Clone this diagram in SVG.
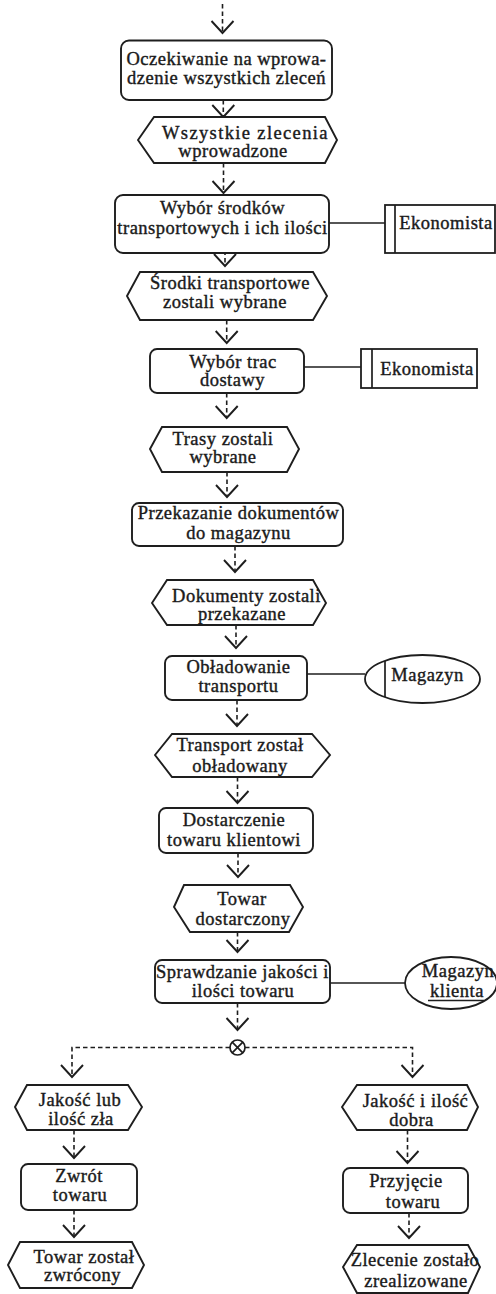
<svg xmlns="http://www.w3.org/2000/svg" width="496" height="1294" viewBox="0 0 496 1294">
  <style>
    .box { fill: #fff; stroke: #1e1e1e; stroke-width: 1.9; }
    .ev { fill: #fff; stroke: #1e1e1e; stroke-width: 1.9; stroke-linejoin: miter; }
    .org { fill: #fff; stroke: #1e1e1e; stroke-width: 1.8; }
    .ln { stroke: #1e1e1e; stroke-width: 1.7; fill: none; }
    .flow { stroke: #1e1e1e; stroke-width: 1.6; fill: none; stroke-dasharray: 4.5 3; }
    text { font-family: "Liberation Serif", "Times New Roman", serif; font-size: 18.5px; letter-spacing: 0.5px; fill: #1a1a1a; stroke: #1a1a1a; stroke-width: 0.4; text-anchor: middle; }
  </style>
  <defs>
    <marker id="arr" viewBox="0 0 15 24" refX="13" refY="12" markerWidth="15" markerHeight="24" markerUnits="userSpaceOnUse" orient="auto" overflow="visible">
      <path d="M1,1 L13,12 L1,23" fill="none" stroke="#1e1e1e" stroke-width="1.9"/>
    </marker>
  </defs>
  <rect width="496" height="1294" fill="#fff"/>

  <!-- control flow -->
  <g id="connectors">
    <line class="flow" x1="222.5" y1="4" x2="222.5" y2="33" marker-end="url(#arr)"/>
    <line class="flow" x1="223.3" y1="100" x2="223.3" y2="117" marker-end="url(#arr)"/>
    <line class="flow" x1="223.5" y1="163" x2="223.5" y2="193" marker-end="url(#arr)"/>
    <line class="flow" x1="225" y1="243" x2="225" y2="266" marker-end="url(#arr)"/>
    <line class="flow" x1="226.7" y1="320" x2="226.7" y2="343" marker-end="url(#arr)"/>
    <line class="flow" x1="226.7" y1="393" x2="226.7" y2="418" marker-end="url(#arr)"/>
    <line class="flow" x1="227" y1="472" x2="227" y2="497" marker-end="url(#arr)"/>
    <line class="flow" x1="235" y1="546" x2="235" y2="572" marker-end="url(#arr)"/>
    <line class="flow" x1="236" y1="625" x2="236" y2="648" marker-end="url(#arr)"/>
    <line class="flow" x1="237" y1="700" x2="237" y2="726" marker-end="url(#arr)"/>
    <line class="flow" x1="237.5" y1="777" x2="237.5" y2="803" marker-end="url(#arr)"/>
    <line class="flow" x1="238" y1="853" x2="238" y2="877" marker-end="url(#arr)"/>
    <line class="flow" x1="237.5" y1="932" x2="237.5" y2="952" marker-end="url(#arr)"/>
    <line class="flow" x1="237.5" y1="1003" x2="237.5" y2="1030" marker-end="url(#arr)"/>
    <path class="flow" d="M230,1047.5 H72 V1077" marker-end="url(#arr)"/>
    <path class="flow" d="M245,1047.5 H412.5 V1077" marker-end="url(#arr)"/>
    <line class="flow" x1="74" y1="1130" x2="74" y2="1158" marker-end="url(#arr)"/>
    <line class="flow" x1="74" y1="1210" x2="74" y2="1237" marker-end="url(#arr)"/>
    <line class="flow" x1="407.5" y1="1130" x2="407.5" y2="1163" marker-end="url(#arr)"/>
    <line class="flow" x1="409" y1="1213" x2="409" y2="1238" marker-end="url(#arr)"/>
    <!-- assignments of functions to organisational units -->
    <line class="ln" x1="329" y1="223" x2="385" y2="223"/>
    <line class="ln" x1="304" y1="367" x2="361" y2="367"/>
    <line class="ln" x1="307" y1="674" x2="365" y2="674"/>
    <line class="ln" x1="330" y1="983" x2="405" y2="983"/>
  </g>

  <g id="f-oczekiwanie">
    <rect class="box" x="121" y="40.5" width="211" height="59.5" rx="8"/>
    <text x="226.5" y="65">Oczekiwanie na wprowa-</text>
    <text x="226.5" y="83.5">dzenie wszystkich zleceń</text>
  </g>
  <g id="e-zlecenia-wprowadzone">
    <polygon class="ev" points="138,140 154,117 325,117 337,140 325,163 154,163"/>
    <text x="245" y="138.5" textLength="166" lengthAdjust="spacing">Wszystkie zlecenia</text>
    <text x="233" y="157">wprowadzone</text>
  </g>
  <g id="f-wybor-srodkow">
    <rect class="box" x="115" y="195" width="214" height="58" rx="8"/>
    <text x="222.5" y="213.5">Wybór środków</text>
    <text x="222.5" y="233.5">transportowych i ich ilości</text>
  </g>
  <g id="o-ekonomista-1">
    <rect class="org" x="385" y="205" width="110" height="48"/>
    <line class="ln" x1="395" y1="205" x2="395" y2="253"/>
    <text x="446" y="229">Ekonomista</text>
  </g>
  <g id="e-srodki-wybrane">
    <polygon class="ev" points="127,296 140,272 313,272 327,296 313,320 140,320"/>
    <text x="230" y="289">Środki transportowe</text>
    <text x="225" y="307.5">zostali wybrane</text>
  </g>
  <g id="f-wybor-tras">
    <rect class="box" x="150" y="349" width="154" height="44" rx="7"/>
    <text x="233" y="368">Wybór trac</text>
    <text x="232.5" y="386">dostawy</text>
  </g>
  <g id="o-ekonomista-2">
    <rect class="org" x="361" y="349" width="116" height="39"/>
    <line class="ln" x1="372" y1="349" x2="372" y2="388"/>
    <text x="427" y="375">Ekonomista</text>
  </g>
  <g id="e-trasy-wybrane">
    <polygon class="ev" points="150,449 162,427 287,427 299,449 287,472 162,472"/>
    <text x="223" y="445">Trasy zostali</text>
    <text x="223" y="463">wybrane</text>
  </g>
  <g id="f-przekazanie">
    <rect class="box" x="132" y="503" width="211" height="43" rx="7"/>
    <text x="238.5" y="519">Przekazanie dokumentów</text>
    <text x="238.5" y="539">do magazynu</text>
  </g>
  <g id="e-dokumenty-przekazane">
    <polygon class="ev" points="152,603 167,580 313,580 326,603 313,625 167,625"/>
    <text x="246.5" y="602">Dokumenty zostali</text>
    <text x="242" y="620">przekazane</text>
  </g>
  <g id="f-obladowanie">
    <rect class="box" x="165" y="656" width="142" height="44" rx="7"/>
    <text x="238.5" y="673">Obładowanie</text>
    <text x="238.5" y="692">transportu</text>
  </g>
  <g id="o-magazyn">
    <ellipse class="org" cx="422.5" cy="679" rx="57.5" ry="24"/>
    <line class="ln" x1="385" y1="661" x2="385" y2="697"/>
    <text x="427.5" y="681">Magazyn</text>
  </g>
  <g id="e-transport-obladowany">
    <polygon class="ev" points="155,755 172,734 312,734 330,755 312,777 172,777"/>
    <text x="240" y="751">Transport został</text>
    <text x="240" y="772">obładowany</text>
  </g>
  <g id="f-dostarczenie">
    <rect class="box" x="159" y="808" width="154" height="45" rx="7"/>
    <text x="234" y="826">Dostarczenie</text>
    <text x="234" y="846">towaru klientowi</text>
  </g>
  <g id="e-towar-dostarczony">
    <polygon class="ev" points="174,907 184,885 290,885 303,907 289,932 190,932"/>
    <text x="242" y="905">Towar</text>
    <text x="243" y="925">dostarczony</text>
  </g>
  <g id="f-sprawdzanie">
    <rect class="box" x="155" y="960" width="175" height="43" rx="7"/>
    <text x="242.5" y="977.5">Sprawdzanie jakości i</text>
    <text x="243" y="997">ilości towaru</text>
  </g>
  <g id="o-magazyn-klienta">
    <ellipse class="org" cx="451" cy="983" rx="46" ry="26"/>
    <text x="458" y="977">Magazyn</text>
    <text x="457" y="997">klienta</text>
    <line class="ln" x1="428" y1="1000.5" x2="484" y2="1000.5"/>
  </g>
  <g id="xor">
    <circle class="ln" cx="237.5" cy="1047.5" r="7.5" fill="#fff"/>
    <path class="ln" d="M232.2,1042.2 L242.8,1052.8 M242.8,1042.2 L232.2,1052.8"/>
  </g>
  <g id="e-jakosc-zla">
    <polygon class="ev" points="15,1107 27,1085 128,1085 142,1107 128,1130 27,1130"/>
    <text x="80" y="1106">Jakość lub</text>
    <text x="81" y="1125">ilość zła</text>
  </g>
  <g id="f-zwrot">
    <rect class="box" x="21" y="1164" width="116" height="46" rx="7"/>
    <text x="79" y="1182">Zwrót</text>
    <text x="80" y="1201">towaru</text>
  </g>
  <g id="e-towar-zwrocony">
    <polygon class="ev" points="8,1265 20,1242 132,1242 144,1265 132,1288 20,1288"/>
    <text x="84" y="1263">Towar został</text>
    <text x="82.5" y="1281">zwrócony</text>
  </g>
  <g id="e-jakosc-dobra">
    <polygon class="ev" points="342,1107 357,1085 467,1085 478,1107 467,1130 357,1130"/>
    <text x="415.5" y="1107">Jakość i ilość</text>
    <text x="411.5" y="1126">dobra</text>
  </g>
  <g id="f-przyjecie">
    <rect class="box" x="343" y="1168" width="125" height="45" rx="7"/>
    <text x="406" y="1187">Przyjęcie</text>
    <text x="413" y="1208">towaru</text>
  </g>
  <g id="e-zlecenie-zrealizowane">
    <polygon class="ev" points="343,1267 357,1245 468,1245 480,1267 468,1293 357,1293"/>
    <text x="415" y="1266">Zlecenie zostało</text>
    <text x="416" y="1287">zrealizowane</text>
  </g>
</svg>
